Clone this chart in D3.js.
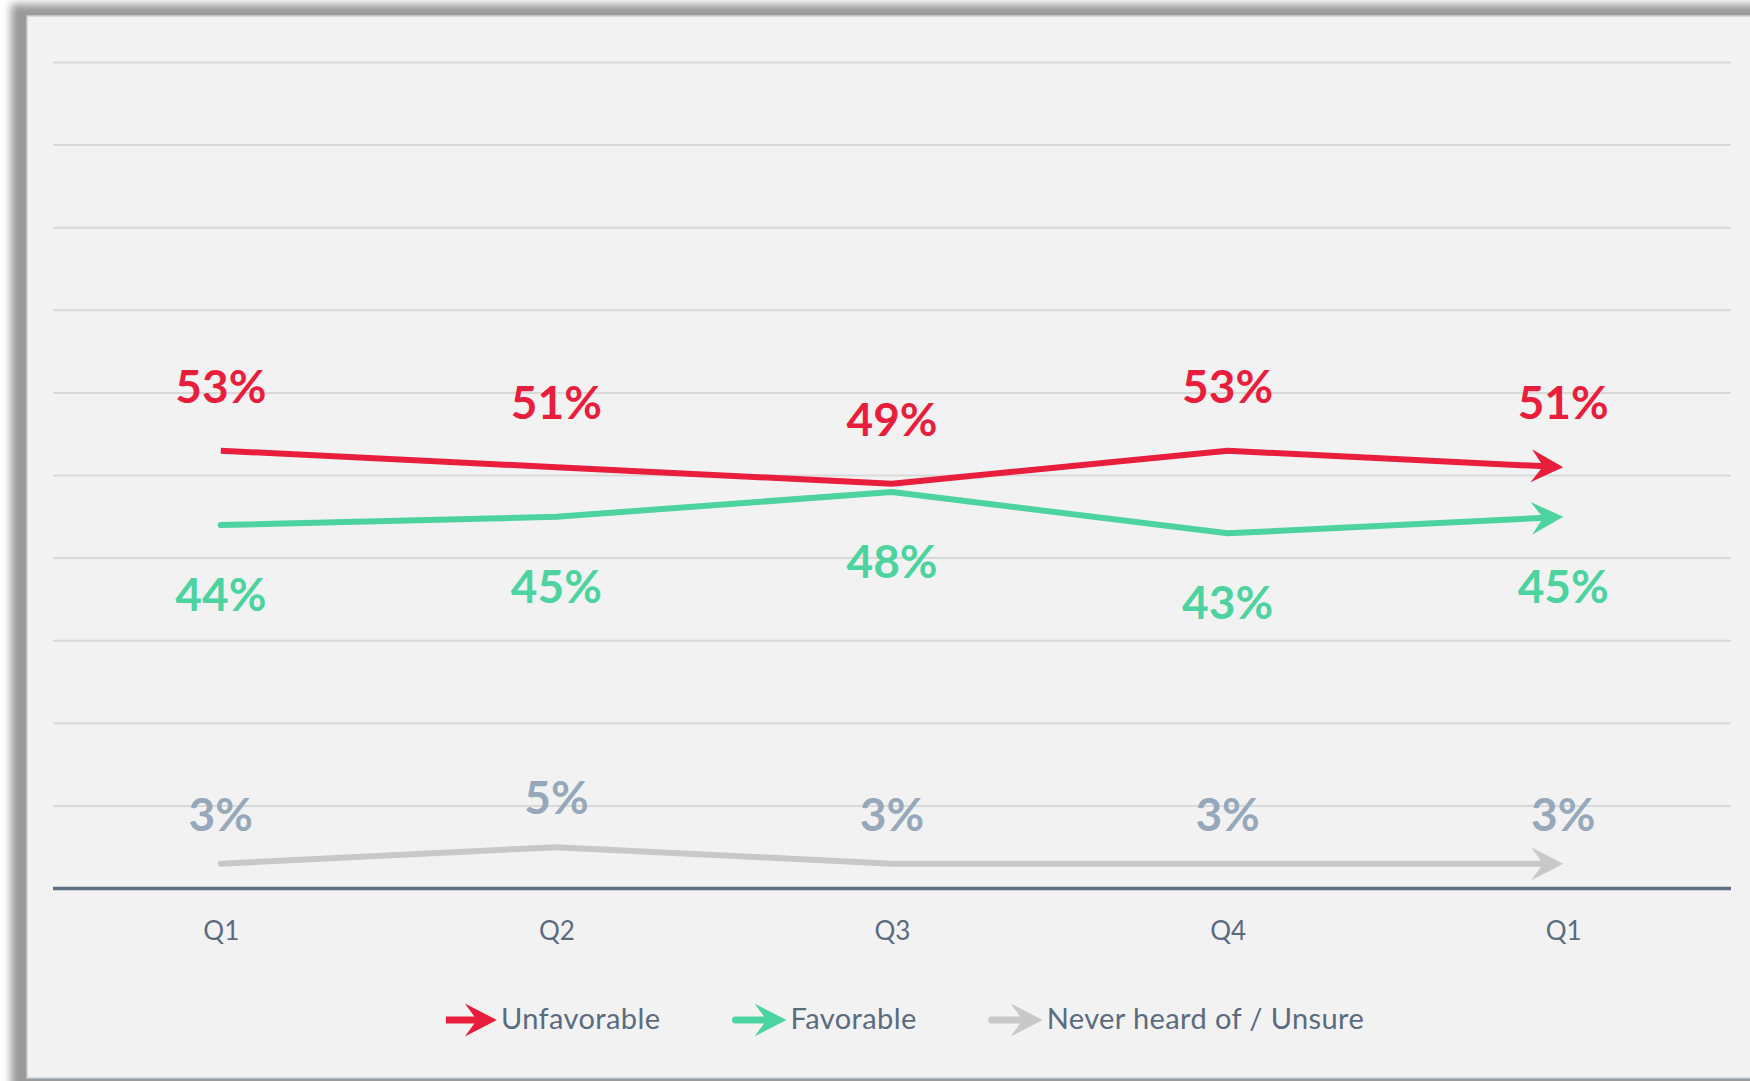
<!DOCTYPE html>
<html>
<head>
<meta charset="utf-8">
<script src="https://cdn.jsdelivr.net/npm/d3@7"></script>
<style>
  html, body { margin: 0; padding: 0; background: #ffffff; overflow: hidden; }
  svg { display: block; }
</style>
</head>
<body>
<svg id="chart" width="1750" height="1081"></svg>
<script>
// ---- data ----
const categories = ["Q1", "Q2", "Q3", "Q4", "Q1 "];
const categoryLabels = ["Q1", "Q2", "Q3", "Q4", "Q1"];
const unfavorable = [53, 51, 49, 53, 51];
const favorable = [44, 45, 48, 43, 45];
const neverHeard = [3, 5, 3, 3, 3];
const seriesNames = ["Unfavorable", "Favorable", "Never heard of / Unsure"];
const yTicks = [0, 10, 20, 30, 40, 50, 60, 70, 80, 90, 100];

// ---- styles ----
const series = [
  { name: seriesNames[0], values: unfavorable, color: "#E91E3C", labelColor: "#E91E3C", dy: -48, cap: "butt" },
  { name: seriesNames[1], values: favorable, color: "#4CD3A0", labelColor: "#4CD3A0", dy: 86, cap: "round" },
  { name: seriesNames[2], values: neverHeard, color: "#C8C8C8", labelColor: "#96A8BA", dy: -33, cap: "round" }
];

const svg = d3.select("#chart");

// shadow + panel
const defs = svg.append("defs");
const f = defs.append("filter").attr("id", "blur").attr("x", "-5%").attr("y", "-5%").attr("width", "110%").attr("height", "110%");
f.append("feGaussianBlur").attr("stdDeviation", 4);
svg.append("rect").attr("x", 11).attr("y", 4).attr("width", 1760).attr("height", 1100)
  .attr("fill", "#9a9a9a").attr("filter", "url(#blur)");
svg.append("rect").attr("x", 27).attr("y", 16).attr("width", 1740).attr("height", 1062)
  .attr("fill", "#F2F2F2").attr("stroke", "#C5CFDA").attr("stroke-width", 1.5);

const plot = { left: 53, right: 1731, top: 62.5, bottom: 888.5 };

const x = d3.scalePoint().domain(categories).range([plot.left, plot.right]).padding(0.5);
const y = d3.scaleLinear().domain([0, 100]).range([plot.bottom, plot.top]);

// gridlines
svg.append("g").selectAll("line").data(yTicks.filter(d => d > 0)).join("line")
  .attr("x1", plot.left).attr("x2", plot.right)
  .attr("y1", d => y(d)).attr("y2", d => y(d))
  .attr("stroke", "#D9D9D9").attr("stroke-width", 2);

// x axis
const xAxis = svg.append("g").attr("transform", `translate(0,${y(0)})`)
  .call(d3.axisBottom(x).tickSize(0).tickFormat((d, i) => categoryLabels[i]));
xAxis.select(".domain").remove();
xAxis.append("line").attr("x1", plot.left).attr("x2", plot.right).attr("y1", 0).attr("y2", 0)
  .attr("stroke", "#5E6F86").attr("stroke-width", 3.5);
xAxis.selectAll(".tick text")
  .attr("y", 51).attr("dy", 0)
  .attr("font-family", "Lato, 'Open Sans', sans-serif").attr("font-size", 26)
  .attr("fill", "#5A6B80");

// arrowhead path (tip at 0,0 pointing +x)
const arrowPath = "M0,0 L-32,-16.5 L-20,0 L-32,16.5 Z";

series.forEach(s => {
  const pts = s.values.map((v, i) => [x(categories[i]), y(v)]);
  const n = pts.length;
  const tip = pts[n - 1], prev = pts[n - 2];
  const ang = Math.atan2(tip[1] - prev[1], tip[0] - prev[0]);
  const shorten = 18;
  const linePts = pts.slice(0, n - 1).concat([[tip[0] - shorten * Math.cos(ang), tip[1] - shorten * Math.sin(ang)]]);
  svg.append("path").attr("d", d3.line()(linePts))
    .attr("fill", "none").attr("stroke", s.color).attr("stroke-width", 6)
    .attr("stroke-linecap", s.cap).attr("stroke-linejoin", "round");
  svg.append("path").attr("d", arrowPath)
    .attr("transform", `translate(${tip[0]},${tip[1]}) rotate(${ang * 180 / Math.PI})`)
    .attr("fill", s.color);
  svg.append("g").selectAll("text").data(s.values).join("text")
    .attr("x", (d, i) => x(categories[i]))
    .attr("y", d => y(d) + s.dy)
    .attr("text-anchor", "middle")
    .attr("font-family", "Lato, 'Open Sans', sans-serif").attr("font-weight", 700)
    .attr("font-size", 46).attr("fill", s.labelColor)
    .text(d => d + "%");
});

// legend
const legend = svg.append("g");
const legendY = 1020;
const items = [];
series.forEach(s => {
  const g = legend.append("g");
  g.append("line").attr("x1", 0).attr("x2", 36).attr("y1", 0).attr("y2", 0)
    .attr("stroke", s.color).attr("stroke-width", 7).attr("stroke-linecap", s.cap);
  g.append("path").attr("d", arrowPath).attr("transform", "translate(51,0)").attr("fill", s.color);
  const t = g.append("text").attr("x", 55).attr("y", 8.5)
    .attr("font-family", "Lato, 'Open Sans', sans-serif").attr("font-size", 29)
    .attr("letter-spacing", 0.4)
    .attr("fill", "#5A6B80").text(s.name);
  const w = 55 + t.node().getComputedTextLength();
  items.push({ g, w });
});
const gap = 75;
const total = d3.sum(items, d => d.w) + gap * (items.length - 1);
let start = 905 - total / 2;
items.forEach(it => {
  it.g.attr("transform", `translate(${start},${legendY})`);
  start += it.w + gap;
});
</script>
</body>
</html>
